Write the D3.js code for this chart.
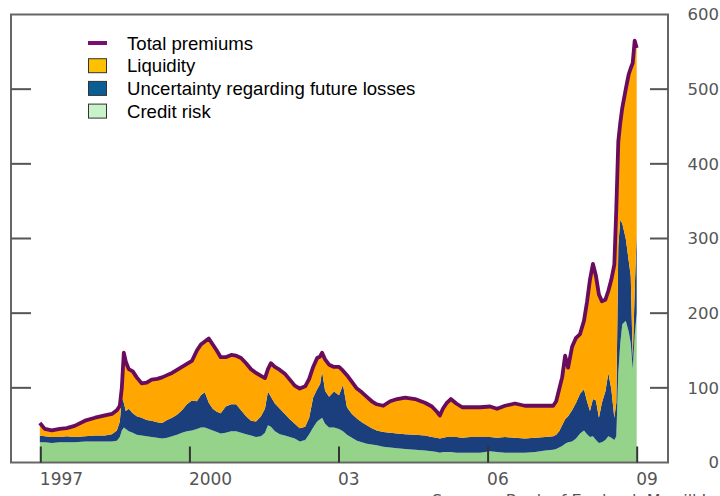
<!DOCTYPE html>
<html>
<head>
<meta charset="utf-8">
<script src="https://cdn.jsdelivr.net/npm/d3@7"></script>
<style>
body { margin: 0; background: #fff; overflow: hidden; }
svg { display: block; }
</style>
</head>
<body>
<script>
// dates as decimal years
var dates = [1996.98,1997.08,1997.22,1997.38,1997.52,1997.68,1997.89,
  1998.09,1998.29,1998.43,1998.53,1998.59,1998.63,1998.67,1998.71,1998.77,1998.85,1998.93,
  1999.03,1999.13,1999.23,1999.34,1999.44,1999.54,1999.64,1999.74,1999.84,1999.94,
  2000.04,2000.14,2000.22,2000.30,2000.38,2000.46,2000.54,2000.62,2000.72,2000.83,2000.93,
  2001.03,2001.13,2001.23,2001.33,2001.43,2001.51,2001.57,2001.63,2001.71,2001.81,2001.91,
  2002.01,2002.11,2002.21,2002.32,2002.40,2002.48,2002.56,2002.62,2002.66,2002.72,2002.80,2002.90,
  2003.00,2003.08,2003.16,2003.26,2003.36,2003.46,2003.56,2003.66,2003.76,2003.89,
  2004.03,2004.17,2004.33,2004.53,2004.73,2004.87,2004.97,
  2005.03,2005.09,2005.17,2005.25,2005.36,2005.48,2005.64,2005.84,
  2006.04,2006.18,2006.34,2006.54,2006.74,2006.95,
  2007.15,2007.31,2007.37,2007.43,2007.49,2007.55,2007.61,2007.69,2007.77,2007.85,2007.93,2007.99,
  2008.05,2008.11,2008.17,2008.23,2008.29,2008.36,2008.42,2008.48,2008.54,2008.58,2008.62,2008.66,
  2008.70,2008.77,2008.83,2008.87,2008.91,2008.95,2008.99];

var credit = [27,27,26,27,27,27,28,
  28,28,28,29,34,43,47,45,42,40,37,
  36,35,34,33,32,33,35,37,40,42,
  43,45,47,47,45,43,41,39,40,42,42,
  40,38,36,34,35,40,50,48,42,38,36,
  34,32,28,30,38,47,55,58,60,52,47,47,
  45,42,37,33,29,27,25,24,23,21,
  20,19,18,17,16,15,14,
  13,14,14,14,13,13,13,13,
  15,14,13,13,13,14,
  16,17,18,20,22,25,27,28,32,39,43,38,
  34,35,30,26,27,30,35,33,30,35,120,160,185,190,175,160,125,170,200];

var uncertainty = [9,8,8,7,8,7,7,
  8,8,10,14,21,44,33,24,30,26,25,
  24,22,22,21,21,24,25,27,30,36,
  40,37,43,47,35,29,27,27,35,36,36,
  30,24,20,21,27,32,45,40,37,34,29,
  24,20,18,18,22,40,43,47,62,44,41,48,
  45,62,37,32,30,27,25,22,20,20,
  20,20,20,20,20,19,19,
  19,19,20,20,21,20,21,21,
  19,19,21,20,19,19,
  18,18,19,22,28,33,35,42,48,53,55,44,
  35,50,53,34,53,65,85,65,30,45,170,165,135,110,95,90,15,60,110];

var liquidity = [17,10,9,11,11,15,21,
  24,27,27,27,21,13,67,66,53,56,52,
  46,50,55,58,61,60,60,60,58,54,
  53,68,68,68,86,86,82,75,66,66,65,
  70,71,69,65,54,41,30,45,49,52,54,
  53,51,53,54,52,41,42,37,25,42,43,33,
  38,19,43,43,40,40,38,36,35,35,
  42,46,49,48,44,41,35,
  31,39,46,51,45,41,40,40,
  41,39,42,46,44,43,
  42,41,45,56,64,85,65,85,87,80,92,133,
  176,181,167,165,136,123,110,147,205,260,140,130,155,200,250,278,395,335,245];

var yTicks = [0, 100, 200, 300, 400, 500, 600];
var xTicks = [1997, 2000, 2003, 2006, 2009];
var xTickLabels = ["1997", "2000", "03", "06", "09"];
var legendLabels = ["Total premiums", "Liquidity", "Uncertainty regarding future losses", "Credit risk"];
var sourceText = "Sources: Bank of England, Merrill Lynch, Thomson Datastream and Bank calculations.";

var width = 720, height = 496;
var plotLeft = 11, plotRight = 668, plotTop = 14.5, plotBottom = 462.5;

var svg = d3.select("body").append("svg")
  .attr("width", width)
  .attr("height", height);

var x = d3.scaleLinear().domain([1996.4, 2009.62]).range([plotLeft, plotRight]);
var y = d3.scaleLinear().domain([0, 600]).range([plotBottom, plotTop]);

var rows = dates.map(function(d, i) {
  return { date: d, credit: credit[i], uncertainty: uncertainty[i], liquidity: liquidity[i] };
});

var keys = ["credit", "uncertainty", "liquidity"];
var fills = { credit: "#95d38b", uncertainty: "#1b3f7d", liquidity: "#ffa600" };
var series = d3.stack().keys(keys)(rows);

var area = d3.area()
  .x(function(d) { return x(d.data.date); })
  .y0(function(d) { return y(d[0]); })
  .y1(function(d) { return y(d[1]); });

svg.append("g").selectAll("path")
  .data(series)
  .enter().append("path")
  .attr("d", area)
  .attr("fill", function(d) { return fills[d.key]; });

// total premiums line = sum of the components
var line = d3.line()
  .x(function(d) { return x(d.date); })
  .y(function(d) { return y(d.credit + d.uncertainty + d.liquidity); });

svg.append("path")
  .datum(rows)
  .attr("d", line)
  .attr("fill", "none")
  .attr("stroke", "#6a0c5e")
  .attr("stroke-width", 3.8)
  .attr("stroke-linejoin", "round");

// frame
svg.append("rect")
  .attr("x", plotLeft).attr("y", plotTop)
  .attr("width", plotRight - plotLeft).attr("height", plotBottom - plotTop)
  .attr("fill", "none")
  .attr("stroke", "#666")
  .attr("stroke-width", 2);

// inner y ticks on both sides
var inner = yTicks.filter(function(t) { return t > 0 && t < 600; });
svg.append("g").selectAll("line")
  .data(inner).enter().append("line")
  .attr("x1", plotLeft).attr("x2", plotLeft + 20)
  .attr("y1", function(d) { return y(d); }).attr("y2", function(d) { return y(d); })
  .attr("stroke", "#555").attr("stroke-width", 2);
svg.append("g").selectAll("line")
  .data(inner).enter().append("line")
  .attr("x1", plotRight - 18).attr("x2", plotRight)
  .attr("y1", function(d) { return y(d); }).attr("y2", function(d) { return y(d); })
  .attr("stroke", "#555").attr("stroke-width", 2);

svg.append("g").selectAll("text")
  .data(yTicks).enter().append("text")
  .attr("x", 719)
  .attr("y", function(d) { return y(d); })
  .attr("dy", "0.36em")
  .attr("text-anchor", "end")
  .attr("font-family", "DejaVu Sans")
  .attr("font-size", 16.5)
  .attr("fill", "#555")
  .text(function(d) { return d; });

// x ticks, drawn upward from the bottom
svg.append("g").selectAll("line")
  .data(xTicks).enter().append("line")
  .attr("x1", function(d) { return x(d); }).attr("x2", function(d) { return x(d); })
  .attr("y1", plotBottom - 16).attr("y2", plotBottom)
  .attr("stroke", "#333").attr("stroke-width", 2);

svg.append("g").selectAll("text")
  .data(xTicks).enter().append("text")
  .attr("x", function(d) { return x(d) - 1; })
  .attr("y", 485)
  .attr("font-family", "DejaVu Sans")
  .attr("font-size", 17)
  .attr("fill", "#555")
  .text(function(d, i) { return xTickLabels[i]; });

svg.append("text")
  .attr("x", 432).attr("y", 506)
  .attr("font-family", "DejaVu Sans")
  .attr("font-size", 16)
  .attr("fill", "#555")
  .text(sourceText);

// legend
var legendFills = [null, "#ffc000", "#0a5e94", "#c8f2c8"];
var lg = svg.append("g").attr("transform", "translate(88,43)");
legendLabels.forEach(function(label, i) {
  var yy = i * 22.7;
  if (i === 0) {
    lg.append("line")
      .attr("x1", 0).attr("x2", 19).attr("y1", yy).attr("y2", yy)
      .attr("stroke", "#7a0f70").attr("stroke-width", 4);
  } else {
    lg.append("rect")
      .attr("x", 0.5).attr("y", yy - 7).attr("width", 18).attr("height", 14)
      .attr("fill", legendFills[i]).attr("stroke", "#333").attr("stroke-width", 1);
  }
  lg.append("text")
    .attr("x", 39).attr("y", yy)
    .attr("dy", "0.36em")
    .attr("font-family", "Liberation Sans, Arial")
    .attr("font-size", 18.6)
    .attr("fill", "#000")
    .text(label);
});
</script>
</body>
</html>
